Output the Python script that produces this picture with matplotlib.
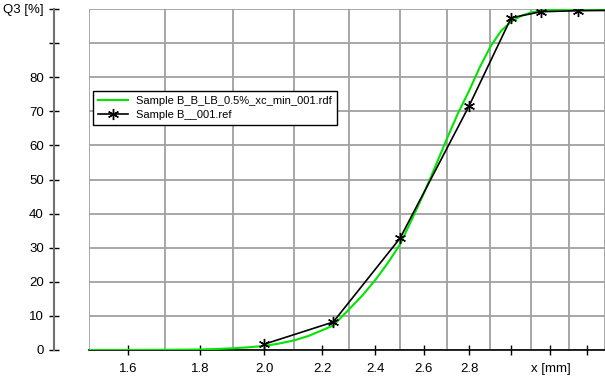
import matplotlib
matplotlib.use("Agg")
import matplotlib.pyplot as plt
from matplotlib.ticker import FixedLocator, NullFormatter
import numpy as np

plt.rcParams['font.family'] = ['Liberation Sans', 'DejaVu Sans']

# measured curve (rdf)
x_rdf = [1.5, 1.6, 1.7, 1.8, 1.85, 1.9, 1.95, 2.0, 2.05, 2.1, 2.15, 2.2, 2.24, 2.3, 2.35,
         2.4, 2.45, 2.5, 2.55, 2.6, 2.65, 2.7, 2.75, 2.8, 2.85, 2.9, 2.95, 3.0, 3.05,
         3.1, 3.15, 3.2, 3.3, 3.5]
q3_rdf = [0.0, 0.0, 0.05, 0.15, 0.3, 0.5, 0.8, 1.2, 1.9, 2.8, 4.1, 5.8, 7.2, 12.0, 16.0,
          20.5, 25.5, 31.0, 38.5, 46.0, 54.0, 62.0, 69.5, 76.0, 83.0, 89.0, 93.5, 96.3, 98.0,
          99.0, 99.5, 99.7, 99.9, 100.0]

# reference sieve points
x_ref = [2.0, 2.24, 2.5, 2.8, 3.0, 3.15, 3.35, 3.55]
q3_ref = [1.7, 8.2, 32.8, 71.6, 97.4, 99.2, 99.5, 99.6]

label_rdf = "Sample B_B_LB_0.5%_xc_min_001.rdf"
label_ref = "Sample B__001.ref"

x_ticks = [1.6, 1.8, 2.0, 2.2, 2.4, 2.6, 2.8, 3.0, 3.2, 3.4]
x_ticklabels = ["1.6", "1.8", "2.0", "2.2", "2.4", "2.6", "2.8", "", "x [mm]", ""]
y_ticks = [0, 10, 20, 30, 40, 50, 60, 70, 80, 90, 100]
y_ticklabels = ["0", "10", "20", "30", "40", "50", "60", "70", "80", "", "Q3 [%]"]

fig = plt.figure(figsize=(6.05, 3.77), dpi=100)
ax = fig.add_axes([89 / 605, 27 / 377, 516 / 605, 341 / 377])

ax.plot(x_rdf, q3_rdf, color="#00e600", lw=1.5, label=label_rdf, zorder=3)
ax.plot(x_ref, q3_ref, color="black", lw=1.2, marker=(6, 2, 0), ms=8, mew=1.0,
        label=label_ref, zorder=4)

ax.set_xscale("log")
ax.set_xlim(1.5, 3.5)
ax.set_ylim(0, 100)

ax.xaxis.set_major_locator(FixedLocator(x_ticks))
ax.set_xticklabels(x_ticklabels)
ax.xaxis.set_minor_locator(FixedLocator(np.arange(1.5, 3.51, 0.1)))
ax.xaxis.set_minor_formatter(NullFormatter())
ax.set_yticks(y_ticks)
ax.set_yticklabels(y_ticklabels)

ax.tick_params(axis="both", which="major", direction="inout", length=7, width=1,
               labelsize=9.5, color="black")
ax.tick_params(axis="x", which="minor", length=0)
ax.tick_params(axis="x", pad=6)
ax.tick_params(axis="y", pad=4)

ax.grid(True, which="minor", axis="x", color="#a0a0a0", lw=1.3)
ax.grid(True, which="major", axis="y", color="#a0a0a0", lw=1.3)
ax.set_axisbelow(True)

for s in ("top", "right"):
    ax.spines[s].set_visible(False)
ax.spines["left"].set_position(("outward", 25))
ax.spines["left"].set_color("#707070")
ax.spines["left"].set_linewidth(1.5)
ax.spines["bottom"].set_linewidth(1.2)

leg = ax.legend(loc="upper left", bbox_to_anchor=(0.008, 0.76), borderaxespad=0,
                fancybox=False, framealpha=1, edgecolor="black", fontsize=8,
                handlelength=2.7, borderpad=0.45, labelspacing=0.35, handletextpad=0.7)
leg.get_frame().set_linewidth(1.0)

# title of the original figure, cut off at the top edge
fig.text(0.0, 1.007, "Comparison of particle size distributions using graph plot",
         fontsize=11, fontweight="bold", va="baseline", ha="left")

fig.savefig("out.png", dpi=100)
